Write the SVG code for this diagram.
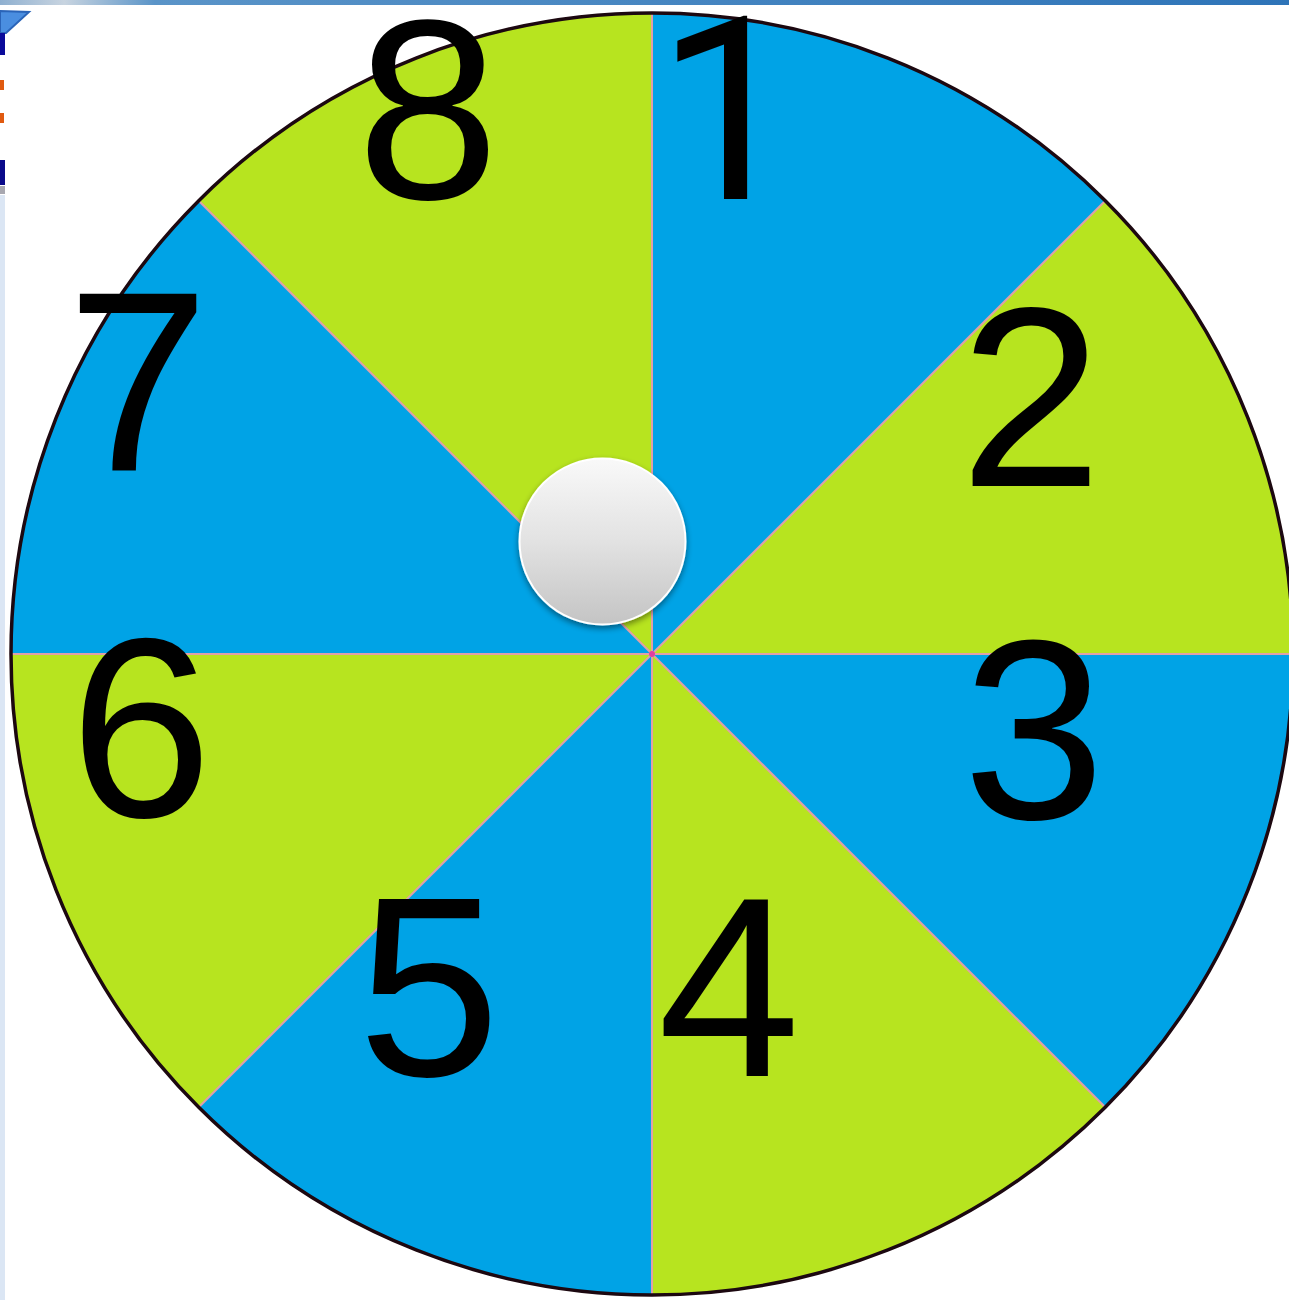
<svg xmlns="http://www.w3.org/2000/svg" width="1289" height="1300" viewBox="0 0 1289 1300">
  <defs>
    <linearGradient id="topbar" x1="0" y1="0" x2="1" y2="0">
      <stop offset="0" stop-color="#8fb0d0"/>
      <stop offset="0.05" stop-color="#c8d4e0"/>
      <stop offset="0.12" stop-color="#5a94c8"/>
      <stop offset="1" stop-color="#2e74b8"/>
    </linearGradient>
    <linearGradient id="knob" x1="0" y1="0" x2="0" y2="1">
      <stop offset="0" stop-color="#f9f9f9"/>
      <stop offset="0.5" stop-color="#e2e2e2"/>
      <stop offset="1" stop-color="#c4c4c4"/>
    </linearGradient>
    <filter id="shadow" x="-30%" y="-30%" width="160%" height="160%">
      <feGaussianBlur in="SourceAlpha" stdDeviation="3"/>
      <feOffset dx="0" dy="3" result="b"/>
      <feComponentTransfer><feFuncA type="linear" slope="0.45"/></feComponentTransfer>
      <feMerge><feMergeNode/><feMergeNode in="SourceGraphic"/></feMerge>
    </filter>
    <style>
      .blue { fill: #00a3e6; }
      .green { fill: #b7e41f; }
      .div { stroke: #e0a0a8; stroke-width: 2; fill: none; }
      .num { font-family: "Liberation Sans", Arial, sans-serif; font-size: 256px; fill: #000; text-anchor: middle; }
      .one { font-family: Roboto, "Liberation Sans", Arial, sans-serif; }
    </style>
  </defs>

  <rect x="0" y="0" width="1289" height="1300" fill="#ffffff"/>

  <!-- background edge artifacts -->
  <g id="edges">
    <rect x="0" y="0" width="1289" height="5" fill="url(#topbar)"/>
    <rect x="0" y="195" width="5" height="1105" fill="#dbe6f4"/>
    <polygon points="0,11 29,12 6,33 0,33" fill="#4a8ee0" stroke="#2a64b8" stroke-width="2"/>
    <rect x="0" y="33" width="5" height="22" fill="#0a0a9a"/>
    <rect x="0" y="80" width="4" height="10" fill="#e05a10"/>
    <rect x="0" y="113" width="4" height="10" fill="#e05a10"/>
    <rect x="0" y="160" width="5" height="25" fill="#0a0a8a"/>
    <rect x="0" y="186" width="5" height="8" fill="#a8a8b0"/>
  </g>

  <g id="wheel">
    <g id="sector-1"><path class="blue" d="M652,654 L652,13 A641,641 0 0 1 1105.3,200.7 Z"/></g>
    <g id="sector-2"><path class="green" d="M652,654 L1105.3,200.7 A641,641 0 0 1 1293,654 Z"/></g>
    <g id="sector-3"><path class="blue" d="M652,654 L1293,654 A641,641 0 0 1 1105.3,1107.3 Z"/></g>
    <g id="sector-4"><path class="green" d="M652,654 L1105.3,1107.3 A641,641 0 0 1 652,1295 Z"/></g>
    <g id="sector-5"><path class="blue" d="M652,654 L652,1295 A641,641 0 0 1 198.7,1107.3 Z"/></g>
    <g id="sector-6"><path class="green" d="M652,654 L198.7,1107.3 A641,641 0 0 1 11,654 Z"/></g>
    <g id="sector-7"><path class="blue" d="M652,654 L11,654 A641,641 0 0 1 198.7,200.7 Z"/></g>
    <g id="sector-8"><path class="green" d="M652,654 L198.7,200.7 A641,641 0 0 1 652,13 Z"/></g>
  </g>

  <g id="connectors">
    <line class="div" x1="652" y1="13" x2="652" y2="1295"/>
    <line class="div" x1="11" y1="654" x2="1293" y2="654"/>
    <line class="div" x1="198.7" y1="200.7" x2="1105.3" y2="1107.3"/>
    <line class="div" x1="1105.3" y1="200.7" x2="198.7" y2="1107.3"/>
    <circle cx="652" cy="654" r="3" fill="#e040a0"/>
  </g>

  <circle id="rim" cx="652" cy="654" r="641" fill="none" stroke="#1c0810" stroke-width="3.5"/>

  <g id="labels">
    <text class="num" x="428" y="199">8</text>
    <text class="num one" x="728" y="199">1</text>
    <text class="num" x="1031" y="486">2</text>
    <text class="num" x="1034" y="819">3</text>
    <text class="num" x="729" y="1076">4</text>
    <text class="num" x="429" y="1076">5</text>
    <text class="num" x="141" y="817">6</text>
    <text class="num" x="138" y="470">7</text>
  </g>

  <g id="knob-node">
    <circle cx="602.5" cy="541.5" r="83" fill="url(#knob)" stroke="#ffffff" stroke-width="2" filter="url(#shadow)"/>
  </g>
</svg>
